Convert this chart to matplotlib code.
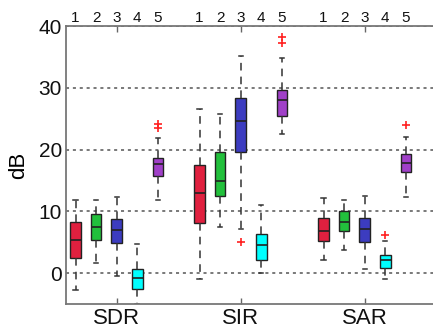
import matplotlib
matplotlib.use("Agg")
import matplotlib.pyplot as plt

plt.rcParams['font.family'] = ['Liberation Sans', 'DejaVu Sans']

groups = ["SDR", "SIR", "SAR"]
methods = ["1", "2", "3", "4", "5"]
colors = ["#E0203F", "#22C03C", "#3C3CC0", "#00FFFF", "#A040C8"]

# stats per group, per method: (whislo, q1, med, q3, whishi)
whislo = [[-2.8, 1.7, -0.5, -5.0, 11.9],
          [-1.0, 7.5, 7.2, 0.0, 22.5],
          [2.2, 3.7, 0.65, -0.9, 12.4]]
q1 = [[2.4, 5.3, 4.9, -2.6, 15.8],
      [8.1, 12.5, 19.6, 2.1, 25.4],
      [5.25, 6.8, 5.0, 0.9, 16.4]]
med = [[5.4, 7.4, 7.0, -0.86, 17.7],
       [13.0, 14.9, 24.6, 4.5, 28.1],
       [6.8, 8.3, 7.1, 2.1, 17.9]]
q3 = [[8.3, 9.5, 8.7, 0.65, 18.7],
      [17.5, 19.6, 28.3, 6.4, 29.7],
      [9.0, 10.0, 8.9, 2.9, 19.35]]
whishi = [[11.9, 11.8, 12.3, 4.65, 21.9],
          [26.6, 25.7, 35.2, 11.1, 34.8],
          [12.2, 11.9, 12.5, 5.25, 22.0]]
fliers = [[[], [], [], [], [24.1, 23.5]],
          [[], [], [5.1], [], [38.3, 37.2]],
          [[], [], [], [6.2], [23.9]]]

fig = plt.figure(figsize=(4.33, 3.33), dpi=100)
ax = fig.add_axes([66/433, 1-304/333, (433-66+20)/433, (304-26)/333])

offset = 0.166
bw = 0.085
for g in range(len(groups)):
    for k in range(len(methods)):
        pos = (g + 1) + (k - 2) * offset
        st = dict(med=med[g][k], q1=q1[g][k], q3=q3[g][k],
                  whislo=whislo[g][k], whishi=whishi[g][k], fliers=fliers[g][k])
        ax.bxp([st], positions=[pos], widths=bw, capwidths=0.035, patch_artist=True,
               boxprops=dict(facecolor=colors[k], edgecolor="#222222", linewidth=1.0),
               medianprops=dict(color="#222222", linewidth=1.2),
               whiskerprops=dict(color="#333333", linewidth=1.1, linestyle=(0, (5, 4))),
               capprops=dict(color="#333333", linewidth=1.1),
               flierprops=dict(marker="+", markeredgecolor="#FF2020", markersize=6,
                               markeredgewidth=1.2, linestyle="none"),
               manage_ticks=False)

ax.set_xlim(0.591, 0.591 + (433 - 66 + 20) / 124)
ax.set_ylim(-5, 40)
ax.set_yticks([0, 10, 20, 30, 40])
ax.tick_params(axis='y', length=0, labelsize=15, pad=3, labelcolor="#111111")
ax.yaxis.grid(True, linestyle=(0, (2, 2.5)), color="#555555", linewidth=1.1)
ax.set_axisbelow(True)

ax.set_xticks([1, 2, 3])
ax.set_xticklabels(groups)
ax.tick_params(axis='x', direction='in', length=4, width=1, color="#666666",
               labelsize=16, pad=3, top=True, labelcolor="#111111")

for s in ["left", "bottom", "top"]:
    ax.spines[s].set_color("#777777")
    ax.spines[s].set_linewidth(1.3)
ax.spines["right"].set_visible(False)

ax.set_ylabel("dB", fontsize=16, labelpad=7)

sec = ax.secondary_xaxis('top')
top_pos = [(g + 1) + (k - 2) * offset for g in range(len(groups)) for k in range(len(methods))]
sec.set_xticks(top_pos)
sec.set_xticklabels(methods * len(groups))
sec.tick_params(length=0, labelsize=11, pad=1, labelcolor="#111111")
sec.spines["top"].set_visible(False)

fig.savefig("out.png", dpi=100)
